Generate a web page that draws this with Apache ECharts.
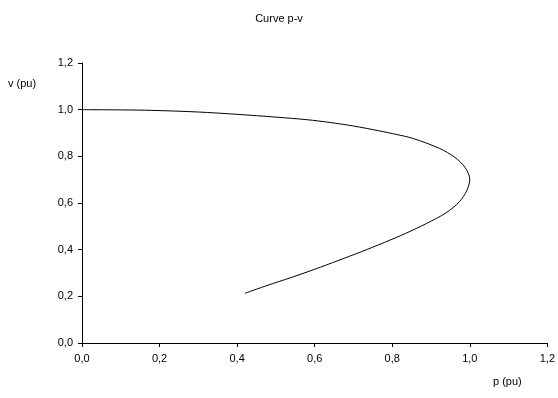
<!DOCTYPE html>
<html>
<head>
<meta charset="utf-8">
<script src="https://cdn.jsdelivr.net/npm/echarts@6/dist/echarts.min.js"></script>
<style>html,body{margin:0;padding:0;background:#fff;}#c{width:558px;height:398px;}</style>
</head>
<body>
<div id="c"></div>
<script>
var titleText = 'Curve p-v';
var xName = 'p (pu)';
var yName = 'v (pu)';
var pValues = [0.00, 0.10, 0.18, 0.30, 0.40, 0.50, 0.58, 0.64, 0.70, 0.767, 0.81, 0.853, 0.922, 0.962, 0.988, 1.000, 0.992, 0.973, 0.939, 0.888, 0.835, 0.78, 0.72, 0.66, 0.60, 0.54, 0.48, 0.42];
var vValues = [1.000, 0.999, 0.997, 0.990, 0.980, 0.968, 0.957, 0.945, 0.930, 0.909, 0.894, 0.877, 0.834, 0.795, 0.752, 0.702, 0.652, 0.605, 0.558, 0.512, 0.470, 0.431, 0.391, 0.353, 0.316, 0.281, 0.248, 0.213];
var tickLabels = ['0,0', '0,2', '0,4', '0,6', '0,8', '1,0', '1,2'];

var font = '"Liberation Sans", Arial, sans-serif';
var data = pValues.map(function (p, i) { return [p, vValues[i]]; });
function fmt(v) { return tickLabels[Math.round(v / 0.2)] || ''; }

var chart = echarts.init(document.getElementById('c'), null, { renderer: 'canvas' });
chart.setOption({
  backgroundColor: '#fff',
  animation: false,
  title: {
    text: titleText, left: 'center', top: 8,
    textStyle: { fontFamily: font, fontSize: 11, fontWeight: 'normal', color: '#000' }
  },
  grid: { left: 82, right: 10, top: 63, bottom: 55, containLabel: false },
  xAxis: {
    type: 'value', min: 0, max: 1.2, interval: 0.2,
    axisLine: { lineStyle: { color: '#000', width: 1 } },
    axisTick: { show: true, length: 4, inside: false, lineStyle: { color: '#000' } },
    splitLine: { show: false },
    axisLabel: { formatter: fmt, margin: 10, fontFamily: font, fontSize: 11, color: '#000' }
  },
  yAxis: {
    type: 'value', min: 0, max: 1.2, interval: 0.2,
    axisLine: { show: true, lineStyle: { color: '#000', width: 1 } },
    axisTick: { show: true, length: 4, inside: false, lineStyle: { color: '#000' } },
    splitLine: { show: false },
    axisLabel: { formatter: fmt, margin: 9, fontFamily: font, fontSize: 11, color: '#000' }
  },
  graphic: [
    { type: 'text', left: 8, top: 78, style: { text: yName, font: '11px ' + font, fill: '#000' } },
    { type: 'text', left: 493, top: 376, style: { text: xName, font: '11px ' + font, fill: '#000' } }
  ],
  series: [{
    type: 'line', data: data, smooth: 0.3, showSymbol: false,
    lineStyle: { color: '#000', width: 1 }
  }]
});
</script>
</body>
</html>
